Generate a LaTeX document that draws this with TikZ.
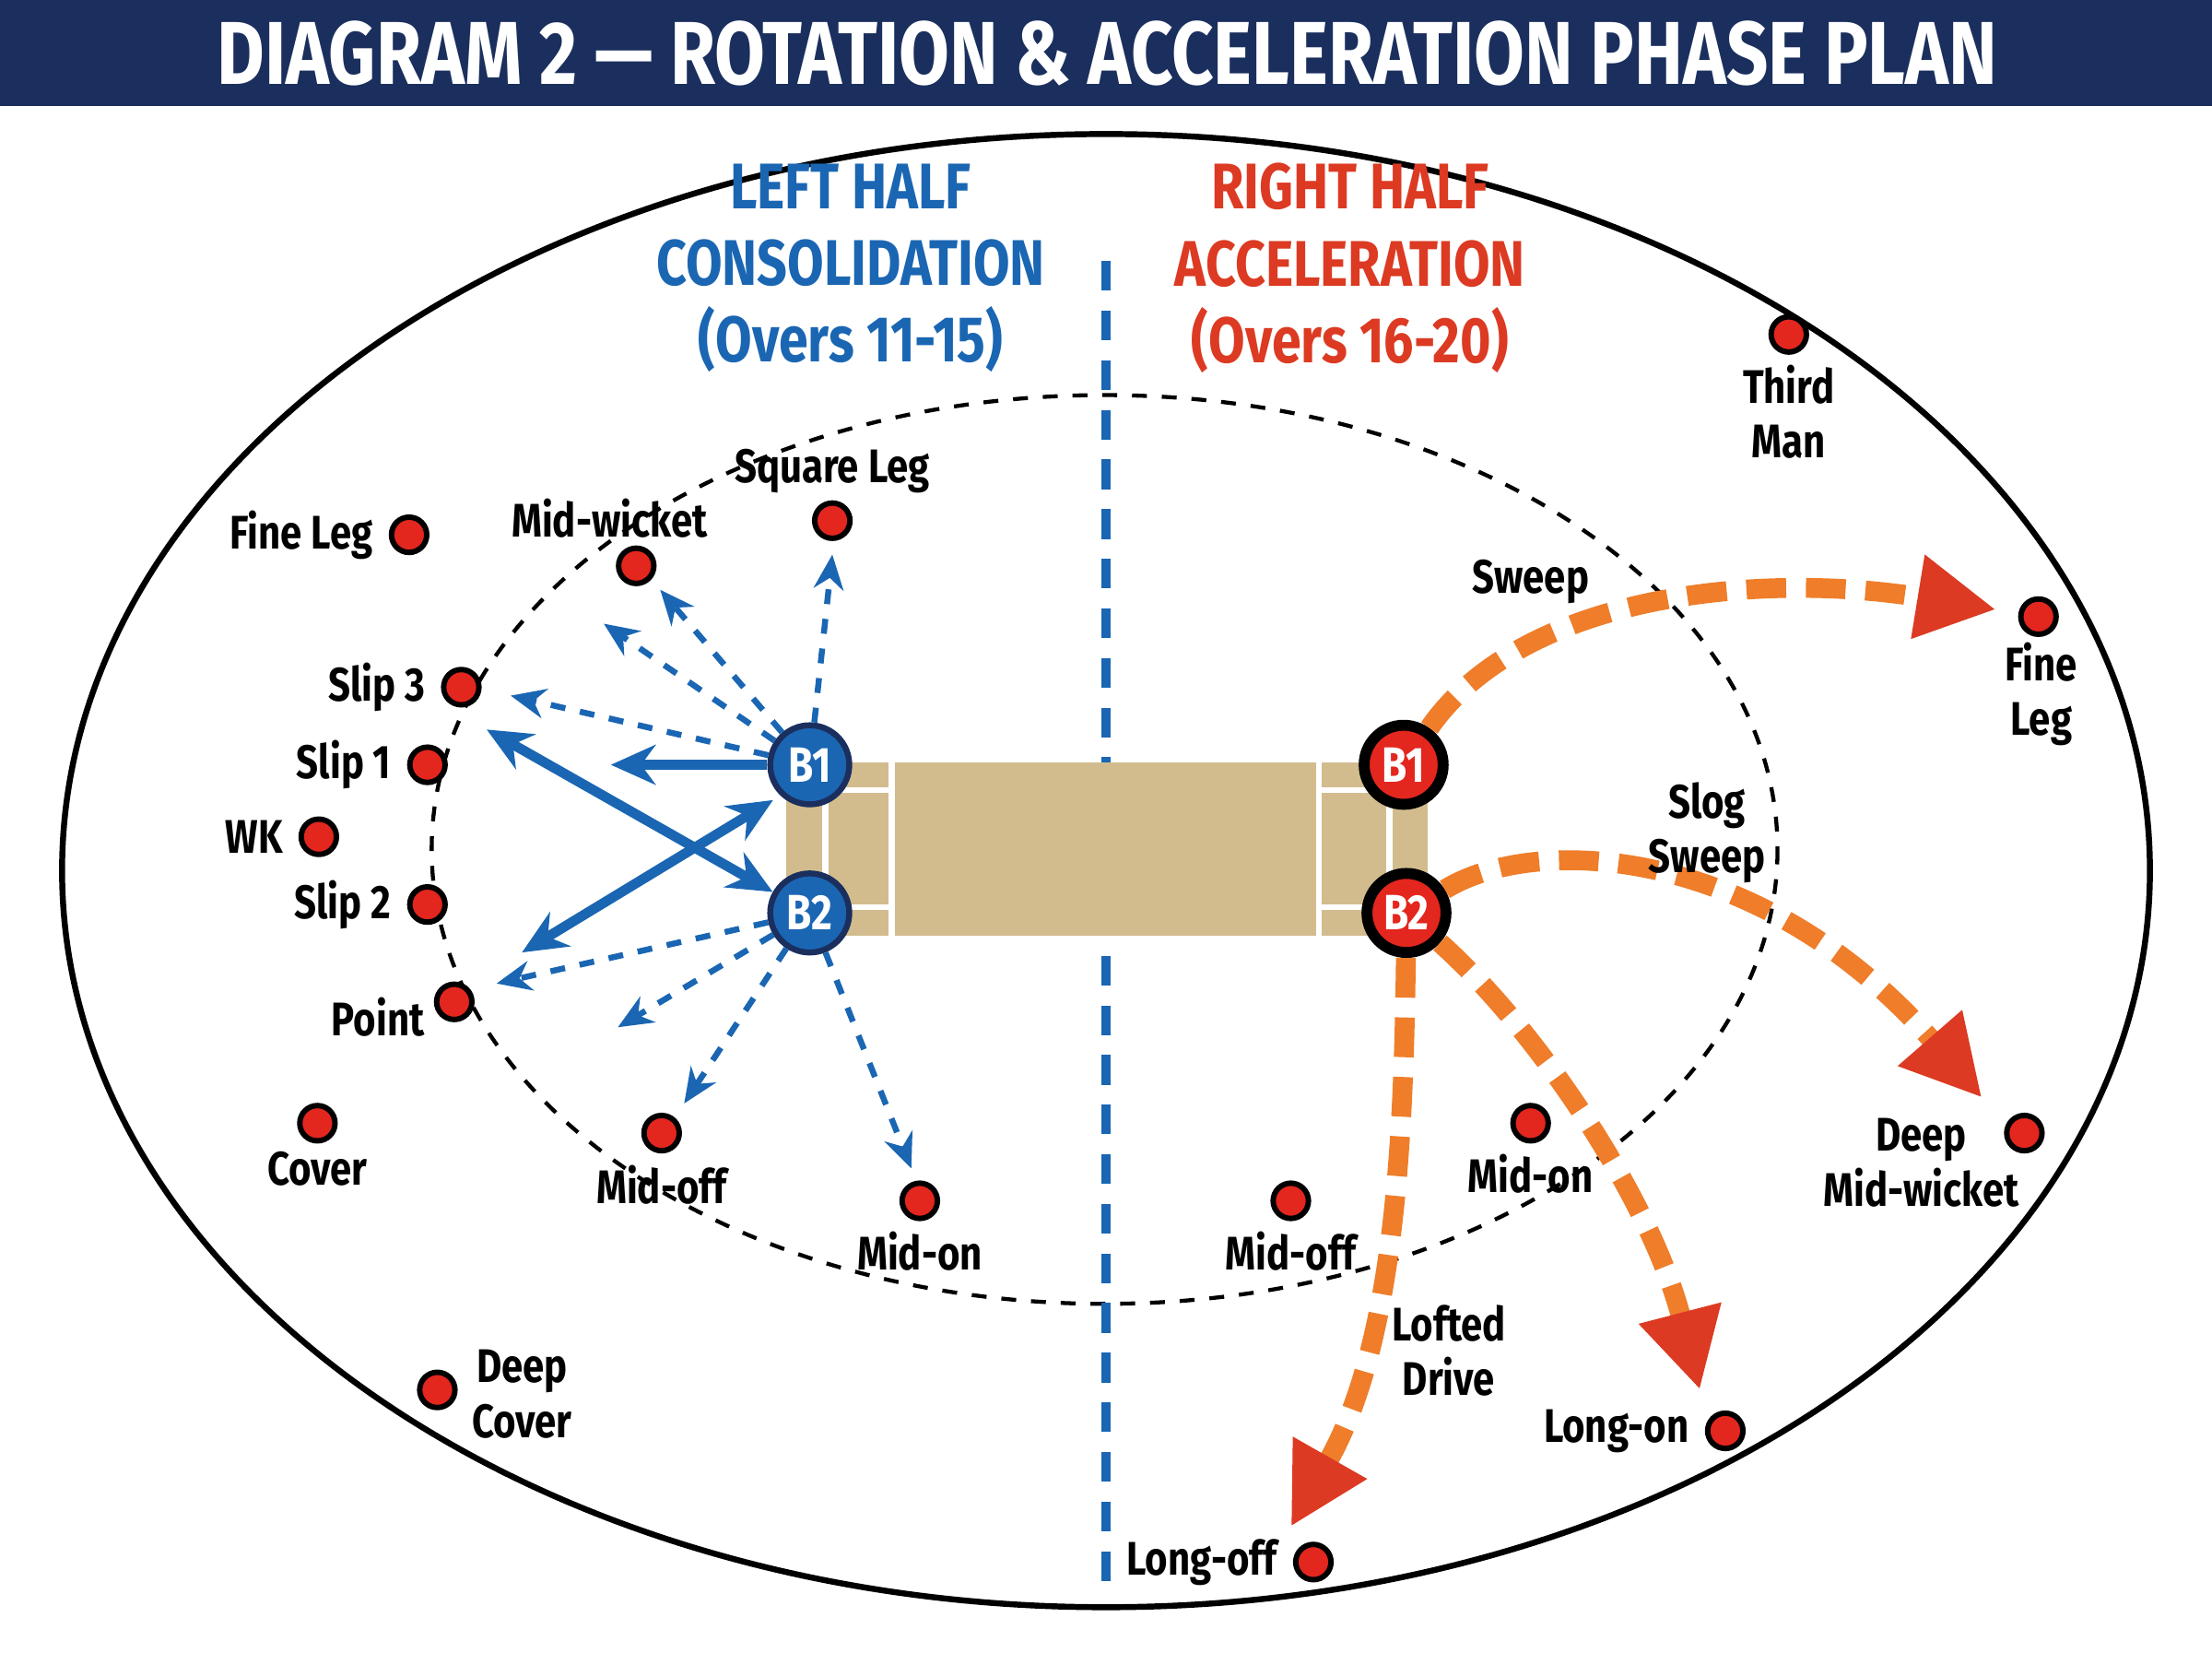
\documentclass[tikz,border=0pt]{standalone}
\usepackage{fontspec}
\setmainfont{Fira Sans}[FakeStretch=0.82]
\usetikzlibrary{arrows.meta,positioning}
\definecolor{navy}{HTML}{1B2F5E}
\definecolor{lblue}{HTML}{1A66B3}
\definecolor{rred}{HTML}{DC3A22}
\definecolor{dot}{HTML}{E3261E}
\definecolor{pitch}{HTML}{D2BC8E}
\definecolor{orng}{HTML}{EF7D2A}
\tikzset{
  fielder/.style={circle, draw=black, line width=1.1pt, fill=dot, minimum size=0.25cm, inner sep=0pt},
  lbl/.style={font=\bfseries\fontsize{9.5}{11}\selectfont, align=center, inner sep=1pt},
  head/.style={font=\bfseries\fontsize{13}{15.5}\selectfont, align=center},
  batb/.style={circle, draw=navy, line width=1.2pt, fill=lblue, text=white, minimum size=0.56cm, inner sep=0pt, font=\bfseries\fontsize{10}{10}\selectfont},
  batr/.style={circle, draw=black, line width=2.2pt, fill=dot, text=white, minimum size=0.56cm, inner sep=0pt, font=\bfseries\fontsize{10}{10}\selectfont},
  shotb/.style={lblue, line width=1.2pt, dashed, -{Stealth[length=7pt,width=6pt]}},
  moveb/.style={lblue, line width=2pt, {Stealth[length=9pt,width=8pt]}-{Stealth[length=9pt,width=8pt]}},
  shotr/.style={orng, line width=4pt, dash pattern=on 8pt off 4pt, -{Triangle[length=16pt,width=16pt,color=rred]}}
}
\begin{document}
\begin{tikzpicture}[x=0.01cm,y=-0.01cm]
  \useasboundingbox (0,0) rectangle (1568,1171);
  \fill[white] (0,0) rectangle (1568,1171);
  % Title bar
  \fill[navy] (0,0) rectangle (1568,75);
  \node[text=white, font=\bfseries\fontsize{18}{18}\selectfont] (title) at (785,38) {DIAGRAM 2 — ROTATION \& ACCELERATION PHASE PLAN};

  % Ground
  \draw[line width=1.2pt] (784,617) ellipse (740 and 522);
  \draw[dashed, line width=0.8pt] (783,602) ellipse (477 and 322);
  \draw[lblue, line width=1.8pt, dash pattern=on 6pt off 4pt] (784,185) -- (784,1130);

  % Pitch
  \fill[pitch] (557,540) rectangle (1012,663);
  \draw[white, line width=1.2pt] (585,540) -- (585,663) (632,540) -- (632,663)
    (585,560) -- (632,560) (585,643) -- (632,643)
    (935,540) -- (935,663) (985,540) -- (985,663)
    (935,560) -- (985,560) (935,643) -- (985,643);

  % Headers
  \node[head, text=lblue] (lefthead) at (603,190) {LEFT HALF\\CONSOLIDATION\\(Overs 11-15)};
  \node[head, text=rred] (righthead) at (957,190) {RIGHT HALF\\ACCELERATION\\(Overs 16-20)};

  % Left fielders
  \node[fielder] (fl) at (290,379) {};
  \node[lbl, left=2pt of fl] {Fine Leg};
  \node[fielder] (mw) at (451,401) {};
  \node[lbl] at (432,367) {Mid-wicket};
  \node[fielder] (sq) at (590,369) {};
  \node[lbl] at (590,334) {Square Leg};
  \node[fielder] (s3) at (327,487) {};
  \node[lbl, left=2pt of s3] {Slip 3};
  \node[fielder] (s1) at (303,542) {};
  \node[lbl, left=2pt of s1] {Slip 1};
  \node[fielder] (wk) at (226,593) {};
  \node[lbl, left=2pt of wk] {WK};
  \node[fielder] (s2) at (303,641) {};
  \node[lbl, left=2pt of s2] {Slip 2};
  \node[fielder] (pt) at (322,710) {};
  \node[lbl] at (268,721) {Point};
  \node[fielder] (cv) at (225,796) {};
  \node[lbl] at (225,828) {Cover};
  \node[fielder] (mo) at (469,803) {};
  \node[lbl] at (469,840) {Mid-off};
  \node[fielder] (mn) at (652,851) {};
  \node[lbl] at (652,887) {Mid-on};
  \node[fielder] (dc) at (310,985) {};
  \node[lbl] at (370,988) {Deep\\Cover};

  % Right fielders
  \node[fielder] (tm) at (1268,237) {};
  \node[lbl] at (1268,292) {Third\\Man};
  \node[fielder] (rfl) at (1445,437) {};
  \node[lbl] at (1447,492) {Fine\\Leg};
  \node[fielder] (dmw) at (1435,803) {};
  \node[lbl] at (1362,824) {Deep\\Mid-wicket};
  \node[fielder] (rmn) at (1085,796) {};
  \node[lbl] at (1085,832) {Mid-on};
  \node[fielder] (rmo) at (915,851) {};
  \node[lbl] at (915,887) {Mid-off};
  \node[fielder] (lon) at (1223,1014) {};
  \node[lbl, left=2pt of lon] {Long-on};
  \node[fielder] (loff) at (931,1107) {};
  \node[lbl, left=2pt of loff] {Long-off};

  % Batters
  \node[batb] (b1) at (574,542) {B1};
  \node[batb] (b2) at (574,647) {B2};
  \node[batr] (rb1) at (995,542) {B1};
  \node[batr] (rb2) at (997,647) {B2};

  % Left half rotation
  \coordinate (t1) at (590,393);
  \coordinate (t2) at (468,418);
  \coordinate (t3) at (428,442);
  \coordinate (t4) at (362,493);
  \coordinate (t5) at (352,697);
  \coordinate (t6) at (438,728);
  \coordinate (t7) at (485,782);
  \coordinate (t8) at (646,828);
  \foreach \t in {t1,t2,t3,t4} \draw[shotb] (b1) -- (\t);
  \foreach \t in {t5,t6,t7,t8} \draw[shotb] (b2) -- (\t);
  \coordinate (m1) at (433,542);
  \coordinate (m2) at (345,517);
  \coordinate (m3) at (370,675);
  \coordinate (m4) at (548,567);
  \draw[lblue, line width=2pt, -{Stealth[length=9pt,width=8pt]}] (b1) -- (m1);
  \draw[moveb] (m2) -- (b2);
  \draw[moveb] (m3) -- (m4);

  % Right half acceleration
  \coordinate (r1) at (1415,432);
  \coordinate (r2) at (1405,778);
  \coordinate (r3) at (915,1082);
  \coordinate (r4) at (1205,985);
  \draw[shotr] (rb1) .. controls (1080,420) and (1250,405) .. (r1);
  \draw[shotr] (rb2) .. controls (1090,590) and (1250,600) .. (r2);
  \draw[shotr] (rb2) .. controls (995,800) and (990,950) .. (r3);
  \draw[shotr] (rb2) .. controls (1090,730) and (1170,850) .. (r4);
  \node[lbl] at (1085,412) {Sweep};
  \node[lbl] at (1210,590) {Slog\\Sweep};
  \node[lbl] at (1027,957) {Lofted\\Drive};
\end{tikzpicture}
\end{document}
